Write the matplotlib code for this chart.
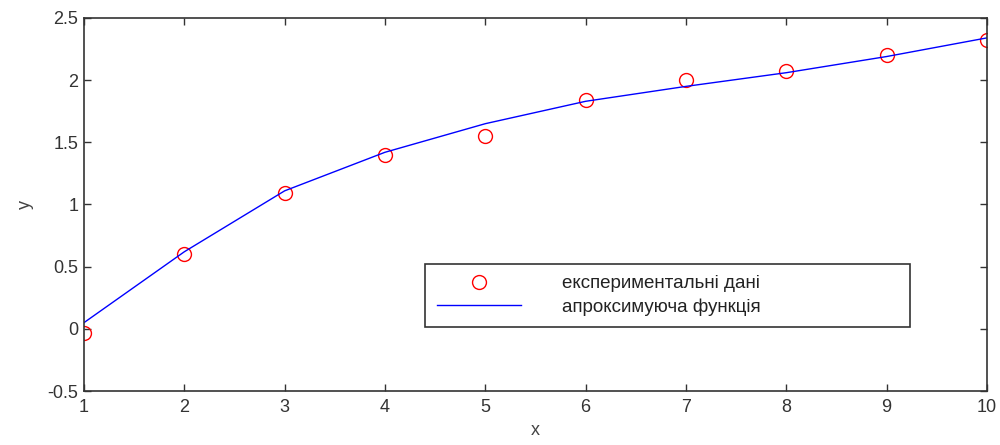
import matplotlib.pyplot as plt

plt.rcParams['font.family'] = ['Liberation Sans', 'DejaVu Sans']

# експериментальні дані
x_data = [1, 2, 3, 4, 5, 6, 7, 8, 9, 10]
y_data = [-0.03, 0.60, 1.09, 1.40, 1.55, 1.84, 2.00, 2.07, 2.20, 2.32]

# апроксимуюча функція
x_fit = [1, 2, 3, 4, 5, 6, 7, 8, 9, 10]
y_fit = [0.05, 0.62, 1.11, 1.42, 1.65, 1.83, 1.95, 2.06, 2.19, 2.34]

fig = plt.figure(figsize=(10, 4.45), dpi=100)
ax = fig.add_axes([0.084, 0.1213, 0.903, 0.8383])

ax.plot(x_data, y_data, 'o', color='red', markerfacecolor='none',
        markersize=10, markeredgewidth=1.0, label='експериментальні дані')
ax.plot(x_fit, y_fit, '-', color='blue', linewidth=1.0,
        label='апроксимуюча функція')

ax.set_xlim(1, 10)
ax.set_ylim(-0.5, 2.5)
ax.set_xticks(range(1, 11))
ax.set_yticks([-0.5, 0, 0.5, 1, 1.5, 2, 2.5])
ax.set_yticklabels(['-0.5', '0', '0.5', '1', '1.5', '2', '2.5'])

ax.tick_params(direction='in', top=True, right=True, length=5, width=1,
               labelsize=13, colors='#333333', pad=4)
ax.tick_params(axis='x', pad=6)
for s in ax.spines.values():
    s.set_linewidth(1.2)
    s.set_color('#333333')

ax.set_xlabel('x', fontsize=13, color='#444444', labelpad=4)
ax.set_ylabel('y', fontsize=13, color='#444444', labelpad=10)

leg = ax.legend(loc='lower left', bbox_to_anchor=(0.378, 0.172, 0.537, 0.168),
                mode='expand', fontsize=13.5, fancybox=False, framealpha=1,
                edgecolor='#333333', handlelength=4.5, handletextpad=2.2,
                borderaxespad=0, borderpad=0.6, labelspacing=0.3)
leg.get_frame().set_linewidth(1.2)
for t in leg.get_texts():
    t.set_color('#222222')

plt.savefig('out.png', dpi=100)
